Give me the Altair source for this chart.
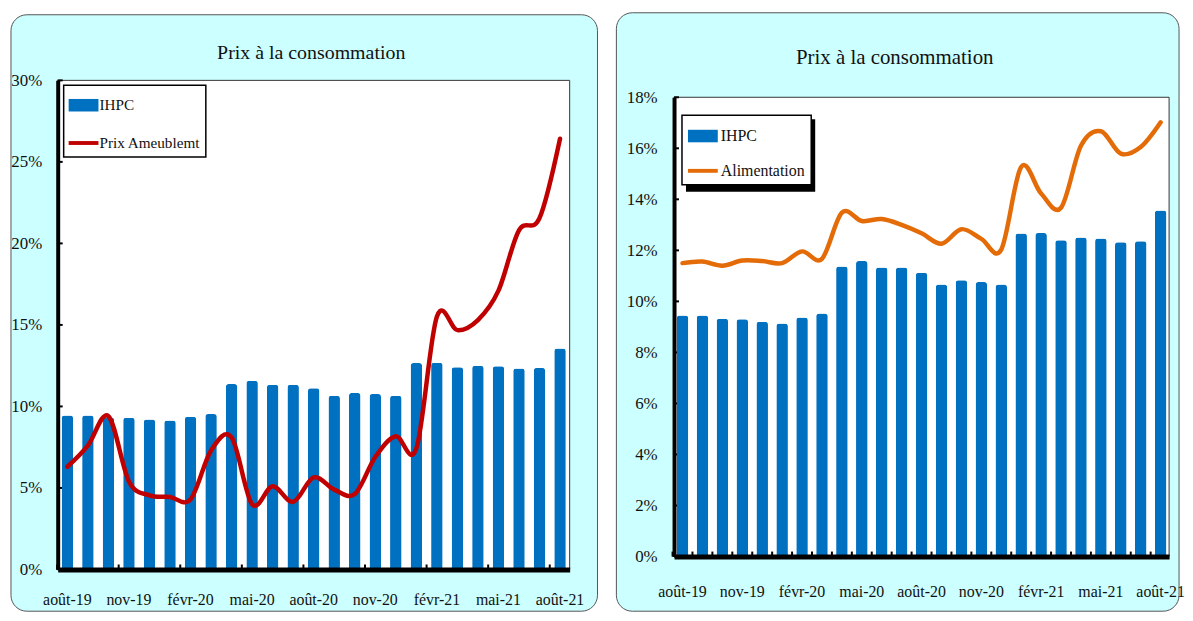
import altair as alt
import pandas as pd

# ---------------- data ----------------
mois = ["août-19", "sept-19", "oct-19", "nov-19", "déc-19", "janv-20", "févr-20",
        "mars-20", "avr-20", "mai-20", "juin-20", "juil-20", "août-20", "sept-20",
        "oct-20", "nov-20", "déc-20", "janv-21", "févr-21", "mars-21", "avr-21",
        "mai-21", "juin-21", "juil-21", "août-21"]
mois_affiches = mois[::3]

ihpc = [9.45, 9.45, 9.32, 9.30, 9.20, 9.13, 9.37, 9.53, 11.37, 11.58, 11.33, 11.33,
        11.12, 10.66, 10.83, 10.76, 10.66, 12.66, 12.68, 12.40, 12.50, 12.46, 12.32,
        12.36, 13.56]
prix_ameublement = [6.3, 7.6, 9.4, 5.4, 4.55, 4.45, 4.3, 7.3, 8.1, 4.0, 5.1, 4.15,
                    5.65, 4.9, 4.63, 6.9, 8.17, 7.42, 15.5, 14.68, 15.3, 17.1, 20.8,
                    21.55, 26.42]
alimentation = [11.5, 11.56, 11.4, 11.6, 11.58, 11.5, 11.96, 11.67, 13.48, 13.15,
                13.23, 13.0, 12.67, 12.26, 12.83, 12.45, 12.03, 15.27, 14.23, 13.67,
                16.1, 16.67, 15.79, 16.05, 17.02]

titre = "Prix à la consommation"
nom_ihpc = "IHPC"
nom_ameub = "Prix Ameublemt"
nom_alim = "Alimentation"

ticks_gauche = [0, 0.05, 0.10, 0.15, 0.20, 0.25, 0.30]
ticks_droite = [0, 0.02, 0.04, 0.06, 0.08, 0.10, 0.12, 0.14, 0.16, 0.18]

BLEU = "#0070C0"
ROUGE = "#C00000"
ORANGE = "#E36C09"
CYAN = "#CCFFFF"
FONT = "Liberation Serif"
TXT = "#111111"

# legend symbols (custom paths)
SYM_BAR = "M-1,-0.42H1V0.42H-1Z"
SYM_LINE = "M-1,-0.13H1V0.13H-1Z"


def long_df(line_name, line_vals):
    rows = []
    for m, v in zip(mois, ihpc):
        rows.append({"mois": m, "serie": nom_ihpc, "val": v / 100})
    for m, v in zip(mois, line_vals):
        rows.append({"mois": m, "serie": line_name, "val": v / 100})
    return pd.DataFrame(rows)


def panel(line_name, line_vals, line_color, ticks, ymax, W, H, top, pin, pout,
          bg, title_xy, title_size, legend_xy, leg_pad, leg_rowpad, leg_font,
          leg_off, label_pad_x, label_pad_y, tick_every, shadow=None):
    df = long_df(line_name, line_vals)
    one = pd.DataFrame({"k": [0]})
    xax = alt.Axis(values=mois_affiches, labelAngle=0, domainWidth=5,
                   domainColor="black", ticks=False, labelFont=FONT,
                   labelFontSize=16, labelColor=TXT, labelPadding=label_pad_x,
                   title=None, zindex=1, grid=False)
    xsc = alt.Scale(paddingInner=pin, paddingOuter=pout)
    x_enc = alt.X("mois:N", sort=mois, scale=xsc, axis=xax)
    yax = alt.Axis(values=ticks, format=".0%", domainWidth=4, domainColor="black",
                   ticks=False, labelFont=FONT, labelFontSize=17, labelColor=TXT,
                   labelPadding=label_pad_y, title=None, grid=False, zindex=1)
    ysc = alt.Scale(domain=[0, ymax], nice=False, range=[H, top])
    y_enc = alt.Y("val:Q", scale=ysc, axis=yax)

    leg = alt.Legend(orient="none", legendX=legend_xy[0], legendY=legend_xy[1],
                     title=None, fillColor="white", strokeColor="black",
                     padding=leg_pad, symbolSize=900, symbolStrokeWidth=0,
                     symbolOpacity=1, labelFont=FONT, labelFontSize=leg_font,
                     labelColor=TXT, rowPadding=leg_rowpad, labelOffset=leg_off)
    dom = [nom_ihpc, line_name]
    color = alt.Color("serie:N", scale=alt.Scale(domain=dom, range=[BLEU, line_color]),
                      legend=leg)
    shape = alt.Shape("serie:N", scale=alt.Scale(domain=dom, range=[SYM_BAR, SYM_LINE]),
                      legend=leg)

    base = alt.Chart(df)
    layers = []
    # panel background (rounded cyan box)
    layers.append(alt.Chart(one).mark_rect(fill=CYAN, stroke="#555555", strokeWidth=1,
                                           cornerRadius=16, clip=False).encode(
        x=alt.value(bg[0]), x2=alt.value(bg[1]), y=alt.value(bg[2]), y2=alt.value(bg[3])))
    # white plot area with thin frame
    layers.append(alt.Chart(one).mark_rect(fill="white", stroke="#333333",
                                           strokeWidth=1).encode(
        x=alt.value(0), x2=alt.value(W), y=alt.value(top), y2=alt.value(H)))
    if shadow is not None:
        layers.append(alt.Chart(one).mark_rect(fill="black").encode(
            x=alt.value(shadow[0]), x2=alt.value(shadow[1]),
            y=alt.value(shadow[2]), y2=alt.value(shadow[3])))
    # title
    layers.append(alt.Chart(one).mark_text(font=FONT, fontSize=title_size, color=TXT,
                                           align="center", baseline="middle").encode(
        x=alt.value(title_xy[0]), y=alt.value(title_xy[1]), text=alt.value(titre)))
    # y ticks (inward)
    layers.append(alt.Chart(pd.DataFrame({"val": ticks})).mark_rule(
        color="black", strokeWidth=2).encode(y=y_enc, x=alt.value(0), x2=alt.value(5)))
    # x ticks (inward, at boundaries)
    xt = pd.DataFrame({"mois": mois[::tick_every]})
    layers.append(alt.Chart(xt).mark_rule(color="black", strokeWidth=2,
                                          xOffset=-pin * (W / (25 - pin + 2 * pout)) / 2).encode(
        x=alt.X("mois:N", sort=mois, scale=xsc, axis=xax, bandPosition=0),
        y=alt.value(H), y2=alt.value(H - 5)))
    bars = base.transform_filter(alt.datum.serie == nom_ihpc).mark_bar(
        cornerRadiusTopLeft=3, cornerRadiusTopRight=3).encode(x=x_enc, y=y_enc, color=color)
    line = base.transform_filter(alt.datum.serie == line_name).mark_line(
        interpolate="cardinal", strokeWidth=4.5, strokeCap="round").encode(
        x=x_enc, y=y_enc, color=color)
    pts = base.mark_point(filled=True, opacity=0).encode(x=x_enc, y=y_enc,
                                                         color=color, shape=shape)
    layers += [bars, line, pts]
    return alt.layer(*layers).properties(width=W, height=H).resolve_scale(
        color="shared", shape="shared")


WL, HL = 515, 492
WR, HR = 498, 479   # right plot area spans y 17..479 within its group

left = panel(nom_ameub, prix_ameublement, ROUGE, ticks_gauche, 0.30, WL, HL, 0,
             0.44, 0.19, bg=(-47, WL + 28, -66, 534), title_xy=(255, -27),
             title_size=20, legend_xy=(6, 5), leg_pad=5, leg_rowpad=14,
             leg_font=15.3, leg_off=1, label_pad_x=22, label_pad_y=16,
             tick_every=3)
right = panel(nom_alim, alimentation, ORANGE, ticks_droite, 0.18, WR, HR, 17,
              0.42, 0.135, bg=(-58, WR + 10, -68, 534), title_xy=(222, -22),
              title_size=21, legend_xy=(8, 35), leg_pad=6, leg_rowpad=12,
              leg_font=16, leg_off=3, label_pad_x=27, label_pad_y=17,
              tick_every=1, shadow=(12, 142, 39, 112))

chart = alt.hconcat(left, right, spacing=17).resolve_scale(
    x="independent", y="independent", color="independent", shape="independent"
).properties(
    padding={"left": 2, "top": 2, "right": 0, "bottom": 0},
    background="white",
).configure_view(strokeWidth=0).configure_legend(strokeWidth=1.5)

chart.save("out.html", embed_options={"renderer": "svg", "actions": False})
